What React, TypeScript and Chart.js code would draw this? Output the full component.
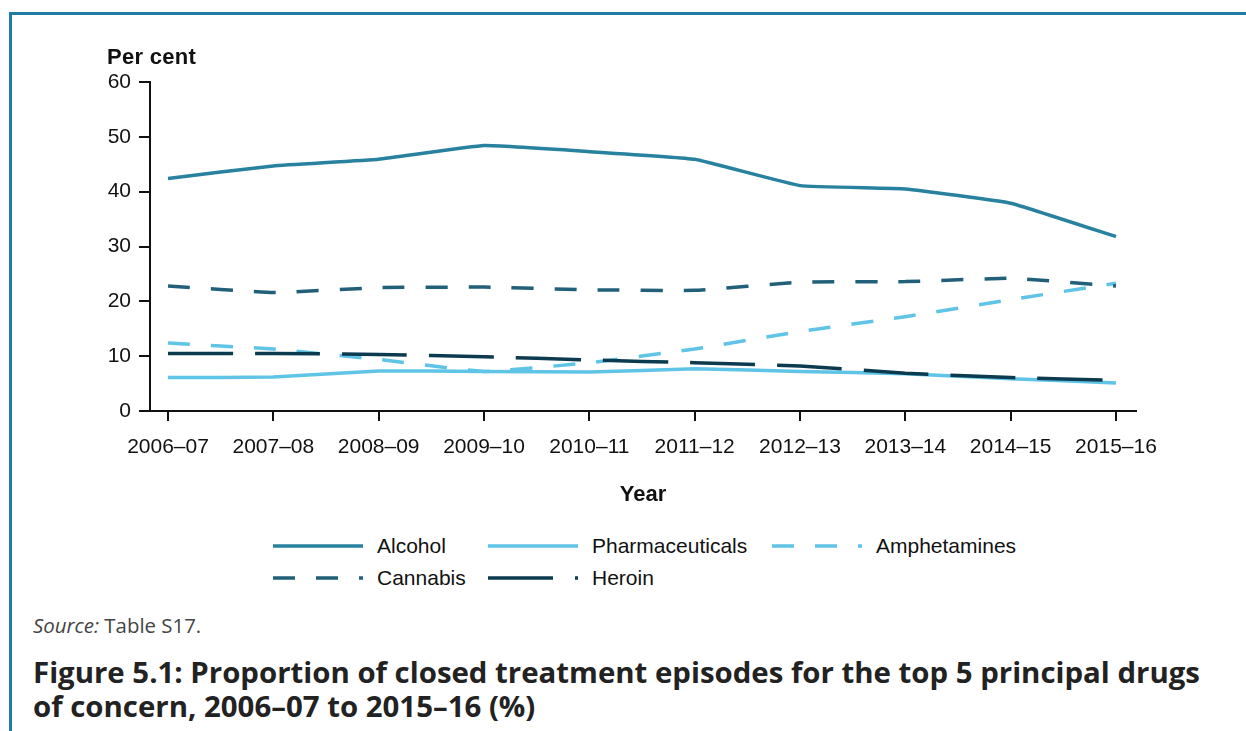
import React, { useEffect, useRef } from "react";
import { Chart, registerables } from "chart.js";

Chart.register(...registerables);

const years = ["2006–07", "2007–08", "2008–09", "2009–10", "2010–11", "2011–12", "2012–13", "2013–14", "2014–15", "2015–16"];
const alcohol = [42.4, 44.7, 45.9, 48.4, 47.3, 45.9, 41.1, 40.5, 37.9, 31.8];
const pharmaceuticals = [6.1, 6.2, 7.3, 7.2, 7.1, 7.7, 7.2, 6.8, 5.9, 5.1];
const amphetamines = [12.4, 11.3, 9.4, 7.2, 8.8, 11.3, 14.5, 17.2, 20.3, 23.3];
const cannabis = [22.8, 21.6, 22.5, 22.6, 22.1, 22.0, 23.5, 23.6, 24.2, 22.8];
const heroin = [10.5, 10.5, 10.3, 9.9, 9.3, 8.8, 8.2, 6.9, 6.1, 5.6];
const yTicks = [0, 10, 20, 30, 40, 50, 60];

const AXIS_FONT = "'Liberation Sans', Arial, sans-serif";
const series = [
  { label: "Alcohol", data: alcohol, color: "#28819f", dash: [] as number[], order: 5 },
  { label: "Pharmaceuticals", data: pharmaceuticals, color: "#5fc4e6", dash: [] as number[], order: 4 },
  { label: "Amphetamines", data: amphetamines, color: "#5fc4e6", dash: [22, 21], order: 3 },
  { label: "Cannabis", data: cannabis, color: "#22607a", dash: [22, 21], order: 2 },
  { label: "Heroin", data: heroin, color: "#0c3a4f", dash: [65, 22], order: 1 },
];

const legendPos = [
  { x: 273, y: 546 },
  { x: 488, y: 546 },
  { x: 772, y: 546 },
  { x: 273, y: 578 },
  { x: 488, y: 578 },
];

export default function App() {
  const ref = useRef<HTMLCanvasElement | null>(null);

  useEffect(() => {
    if (!ref.current) return;
    const chart = new Chart(ref.current, {
      type: "line",
      data: {
        datasets: series.map((s) => ({
          label: s.label,
          data: s.data.map((v, i) => ({ x: i, y: v })),
          borderColor: s.color,
          backgroundColor: s.color,
          borderWidth: 3.5,
          borderDash: s.dash,
          borderCapStyle: "butt" as const,
          pointRadius: 0,
          tension: 0.1,
          fill: false,
          order: s.order,
        })),
      },
      options: {
        animation: false,
        responsive: false,
        devicePixelRatio: 1,
        layout: { padding: { top: 82, right: 110, left: 0, bottom: 12 } },
        plugins: { legend: { display: false }, tooltip: { enabled: false }, title: { display: false } },
        scales: {
          x: {
            type: "linear",
            min: -0.171,
            max: 9.19,
            afterBuildTicks: (scale: any) => {
              scale.ticks = years.map((_, i) => ({ value: i }));
            },
            afterFit: (scale: any) => {
              scale.height = 97;
            },
            ticks: {
              autoSkip: false,
              maxRotation: 0,
              minRotation: 0,
              padding: 14,
              color: "#111",
              font: { family: AXIS_FONT, size: 21 },
              callback: (v: any) => years[v as number] ?? "",
            },
            grid: { drawOnChartArea: false, drawTicks: true, tickLength: 10, color: "#111", lineWidth: 2 },
            border: { display: true, color: "#111", width: 2 },
            title: {
              display: true,
              text: "Year",
              color: "#111",
              font: { family: AXIS_FONT, size: 22, weight: "bold" },
              padding: 0,
            },
          },
          y: {
            type: "linear",
            min: 0,
            max: 60,
            afterBuildTicks: (scale: any) => {
              scale.ticks = yTicks.map((v) => ({ value: v }));
            },
            afterFit: (scale: any) => {
              scale.width = 150;
            },
            ticks: {
              padding: 8,
              color: "#111",
              font: { family: AXIS_FONT, size: 21 },
            },
            grid: { drawOnChartArea: false, drawTicks: true, tickLength: 11, color: "#111", lineWidth: 2 },
            border: { display: true, color: "#111", width: 2 },
          },
        },
      },
    });
    return () => chart.destroy();
  }, []);

  return (
    <div style={{ position: "absolute", left: 0, top: 0, width: 1246, height: 731, background: "#fff", overflow: "hidden" }}>
      <div
        style={{
          position: "absolute",
          left: 9,
          top: 12,
          width: 1260,
          height: 740,
          borderTop: "3px solid #1f7ba3",
          borderLeft: "3px solid #1f7ba3",
        }}
      />
      <canvas ref={ref} width={1246} height={520} style={{ position: "absolute", left: 0, top: 0, width: 1246, height: 520 }} />
      <div
        style={{
          position: "absolute",
          left: 107,
          top: 44,
          fontFamily: AXIS_FONT,
          fontWeight: "bold",
          fontSize: 22,
          lineHeight: "26px",
          color: "#111",
          letterSpacing: "0.3px",
        }}
      >
        Per cent
      </div>
      {series.map((s, i) => (
        <div
          key={s.label}
          style={{ position: "absolute", left: legendPos[i].x, top: legendPos[i].y - 13, height: 26, display: "flex", alignItems: "center" }}
        >
          <svg width={90} height={8} style={{ display: "block" }}>
            <line x1={0} y1={4} x2={90} y2={4} stroke={s.color} strokeWidth={3.5} strokeDasharray={s.dash.length ? s.dash.join(" ") : undefined} />
          </svg>
          <span style={{ marginLeft: 14, fontFamily: AXIS_FONT, fontSize: 21, color: "#111", lineHeight: "26px" }}>{s.label}</span>
        </div>
      ))}
      <div
        style={{
          position: "absolute",
          left: 33,
          top: 611,
          fontFamily: "'Open Sans', sans-serif",
          fontSize: 20.4,
          lineHeight: "28px",
          color: "#444",
        }}
      >
        <i>Source:</i> Table S17.
      </div>
      <div
        style={{
          position: "absolute",
          left: 33,
          top: 655,
          fontFamily: "'Open Sans', sans-serif",
          fontWeight: "bold",
          fontSize: 29.4,
          lineHeight: "34px",
          color: "#222",
          whiteSpace: "nowrap",
        }}
      >
        Figure 5.1: Proportion of closed treatment episodes for the top 5 principal drugs
        <br />
        of concern, 2006–07 to 2015–16 (%)
      </div>
    </div>
  );
}
